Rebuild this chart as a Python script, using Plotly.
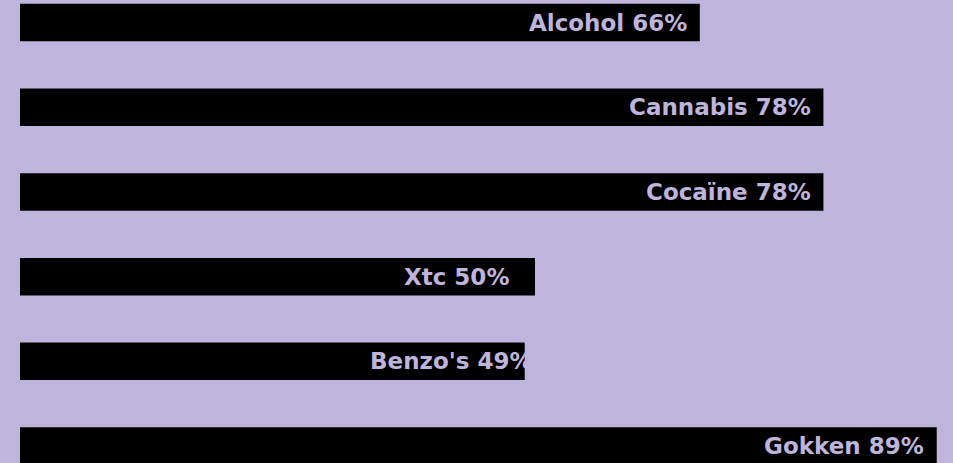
import plotly.graph_objects as go

categories = ["Alcohol", "Cannabis", "Cocaïne", "Xtc", "Benzo's", "Gokken"]
values = [66, 78, 78, 50, 49, 89]

BG = "#BFB4DC"
BAR = "#000000"
label_shift = [-11, -10, -10, -24, 9, -11]

fig = go.Figure()
fig.add_trace(go.Bar(
    x=values,
    y=list(range(len(categories))),
    orientation="h",
    marker=dict(color=BAR, line=dict(width=0)),
    width=0.443,
    hoverinfo="skip",
))

for i, (c, v) in enumerate(zip(categories, values)):
    fig.add_annotation(
        x=v, y=i, text=f"{c} {v}%", showarrow=False,
        xanchor="right", yanchor="middle", xshift=label_shift[i],
        font=dict(family="DejaVu Sans", size=23, color=BG, weight="bold"),
    )

fig.update_layout(
    width=953, height=463,
    margin=dict(l=20, r=0, t=0, b=0),
    paper_bgcolor=BG, plot_bgcolor=BG,
    showlegend=False,
    xaxis=dict(range=[0, 90.58], visible=False, fixedrange=True),
    yaxis=dict(range=[5.2, -0.266], visible=False, fixedrange=True),
)

fig.write_html("out.html", config={"displayModeBar": False})
